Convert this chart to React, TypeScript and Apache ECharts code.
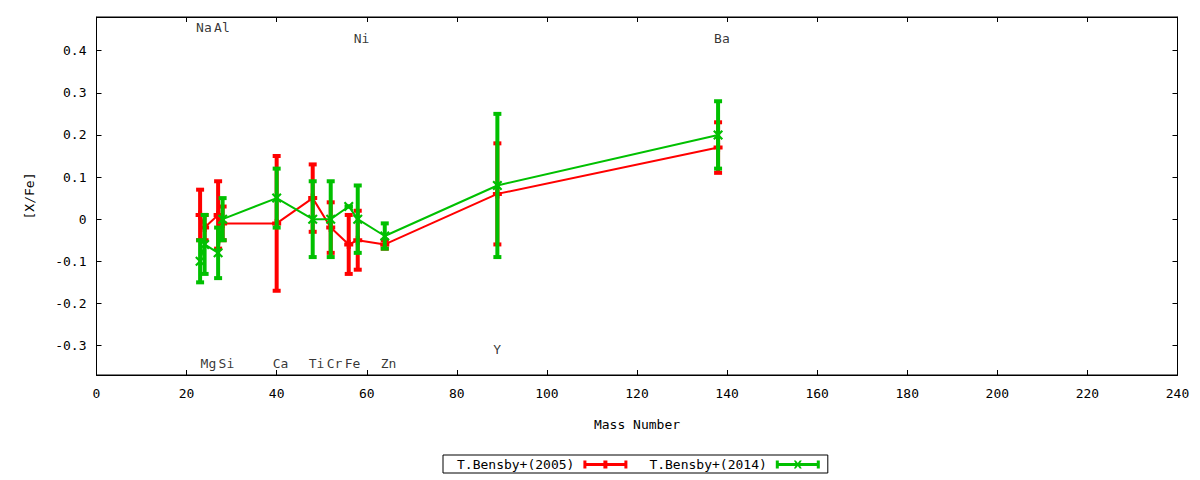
import React, { useEffect, useRef } from "react";
import * as echarts from "echarts";

const elements = ["Na", "Mg", "Al", "Si", "Ca", "Ti", "Cr", "Fe", "Ni", "Zn", "Y", "Ba"];
const massNumbers = [23, 24, 27, 28, 40, 48, 52, 56, 58, 64, 89, 138];
const labelY = [0.455, -0.343, 0.455, -0.343, -0.343, -0.343, -0.343, -0.343, 0.43, -0.343, -0.31, 0.43];

const bensby2005 = [0.01, -0.02, 0.01, -0.01, -0.01, 0.05, -0.02, -0.06, -0.05, -0.06, 0.06, 0.17];
const bensby2005Err = [0.06, 0.03, 0.08, 0.04, 0.16, 0.08, 0.06, 0.07, 0.07, 0.01, 0.12, 0.06];
const bensby2014 = [-0.1, -0.06, -0.08, 0.0, 0.05, 0.0, 0.0, 0.03, 0.0, -0.04, 0.08, 0.2];
const bensby2014Err = [0.05, 0.07, 0.06, 0.05, 0.07, 0.09, 0.09, 0.0, 0.08, 0.03, 0.17, 0.08];

const yTicks = [-0.3, -0.2, -0.1, 0, 0.1, 0.2, 0.3, 0.4];

const RED = "#ff0000";
const GREEN = "#00c000";
const FONT = "DejaVu Sans Mono";

const plusPath = "path://M2.5 0H6.5V9H2.5ZM0 2.5H9V6.5H0Z";
const crossPath =
  "path://M0 1.5L1.5 0L5 3.5L8.5 0L10 1.5L6.5 5L10 8.5L8.5 10L5 6.5L1.5 10L0 8.5L3.5 5Z";
const legendRed = "path://M0 0H3V8H0ZM41 0H44V8H41ZM0 2.5H44V5.5H0ZM20 0H24V8H20Z";
const legendGreen =
  "path://M0 0H3V8H0ZM41 0H44V8H41ZM0 2.5H44V5.5H0ZM18 0L20 0L22 2.5L24 0L26 0L23.5 4L26 8L24 8L22 5.5L20 8L18 8L20.5 4Z";

function errorData(vals: number[], errs: number[]) {
  return massNumbers.map((m, i) => [m, vals[i] - errs[i], vals[i] + errs[i]]);
}

function errorRenderer(color: string) {
  return (params: any, api: any) => {
    const x = api.value(0);
    const lo = api.value(1);
    const hi = api.value(2);
    const pHi = api.coord([x, hi]);
    const pLo = api.coord([x, lo]);
    return {
      type: "group",
      children: [
        {
          type: "line",
          shape: { x1: pHi[0], y1: pHi[1], x2: pLo[0], y2: pLo[1] },
          style: { stroke: color, lineWidth: 4 },
        },
        {
          type: "rect",
          shape: { x: pHi[0] - 4, y: pHi[1] - 2, width: 8, height: 4 },
          style: { fill: color },
        },
        {
          type: "rect",
          shape: { x: pLo[0] - 4, y: pLo[1] - 2, width: 8, height: 4 },
          style: { fill: color },
        },
      ],
    };
  };
}

export default function App() {
  const ref = useRef<HTMLDivElement>(null);
  useEffect(() => {
    if (!ref.current) return;
    const chart = echarts.init(ref.current, undefined, { renderer: "svg" });
    const axisCommon = {
      type: "value",
      axisLine: { show: true, onZero: false, lineStyle: { color: "#000", width: 1 } },
      axisTick: { show: true, inside: true, length: 5, lineStyle: { color: "#000" } },
      splitLine: { show: false },
    };
    chart.setOption({
      animation: false,
      backgroundColor: "#fff",
      textStyle: { fontFamily: FONT },
      grid: {
        left: 96.5,
        right: 22.5,
        top: 17,
        bottom: 105,
        show: true,
        borderColor: "#000",
        borderWidth: 1,
      },
      legend: {
        left: 443,
        top: 455,
        orient: "horizontal",
        align: "right",
        itemWidth: 44,
        itemHeight: 8,
        itemGap: 22,
        padding: [3, 8, 2, 14],
        borderColor: "#000",
        borderWidth: 1,
        textStyle: { fontFamily: FONT, fontSize: 13, color: "#000", padding: [0, 4, 0, 0] },
        data: [
          { name: "T.Bensby+(2005)", icon: legendRed, itemStyle: { color: RED } },
          { name: "T.Bensby+(2014)", icon: legendGreen, itemStyle: { color: GREEN } },
        ],
      },
      xAxis: [
        {
          ...axisCommon,
          position: "bottom",
          min: 0,
          max: 240,
          interval: 20,
          name: "Mass Number",
          nameLocation: "middle",
          nameGap: 43,
          nameTextStyle: { fontFamily: FONT, fontSize: 13, color: "#000" },
          axisLabel: { fontFamily: FONT, fontSize: 13, color: "#000", margin: 12 },
        },
        {
          ...axisCommon,
          position: "top",
          min: 0,
          max: 240,
          interval: 20,
          axisLabel: { show: false },
        },
      ],
      yAxis: [
        {
          ...axisCommon,
          position: "left",
          min: -0.37,
          max: 0.48,
          name: "[X/Fe]",
          nameLocation: "middle",
          nameGap: 61,
          nameTextStyle: { fontFamily: FONT, fontSize: 13, color: "#000" },
          axisTick: {
            show: true,
            inside: true,
            length: 5,
            lineStyle: { color: "#000" },
            customValues: yTicks,
          },
          axisLabel: {
            fontFamily: FONT,
            fontSize: 13,
            color: "#000",
            margin: 10,
            customValues: yTicks,
            formatter: (v: number) => String(Math.round(v * 10) / 10),
          },
        },
        {
          ...axisCommon,
          position: "right",
          min: -0.37,
          max: 0.48,
          axisTick: {
            show: true,
            inside: true,
            length: 5,
            lineStyle: { color: "#000" },
            customValues: yTicks,
          },
          axisLabel: { show: false, customValues: yTicks },
        },
      ],
      series: [
        {
          name: "T.Bensby+(2005)",
          type: "custom",
          z: 1,
          renderItem: errorRenderer(RED),
          data: errorData(bensby2005, bensby2005Err),
          itemStyle: { color: RED },
        },
        {
          name: "T.Bensby+(2005)",
          type: "line",
          z: 2,
          data: massNumbers.map((m, i) => [m, bensby2005[i]]),
          symbol: plusPath,
          symbolSize: 9,
          itemStyle: { color: RED },
          lineStyle: { color: RED, width: 2 },
        },
        {
          name: "T.Bensby+(2014)",
          type: "custom",
          z: 3,
          renderItem: errorRenderer(GREEN),
          data: errorData(bensby2014, bensby2014Err),
          itemStyle: { color: GREEN },
        },
        {
          name: "T.Bensby+(2014)",
          type: "line",
          z: 4,
          data: massNumbers.map((m, i) => [m, bensby2014[i]]),
          symbol: crossPath,
          symbolSize: 10,
          itemStyle: { color: GREEN },
          lineStyle: { color: GREEN, width: 2 },
        },
        {
          name: "labels",
          type: "scatter",
          z: 5,
          symbolSize: 0,
          silent: true,
          itemStyle: { color: "#000" },
          data: elements.map((e, i) => ({ name: e, value: [massNumbers[i], labelY[i]] })),
          label: {
            show: true,
            position: [-4, 0],
            align: "left",
            verticalAlign: "middle",
            formatter: (p: any) => p.name,
            fontFamily: FONT,
            fontSize: 13,
            color: "#000",
            textBorderWidth: 0,
          },
        },
      ],
    });
    return () => chart.dispose();
  }, []);
  return (
    <div
      ref={ref}
      style={{ position: "fixed", left: 0, top: 0, width: 1200, height: 480 }}
    />
  );
}
